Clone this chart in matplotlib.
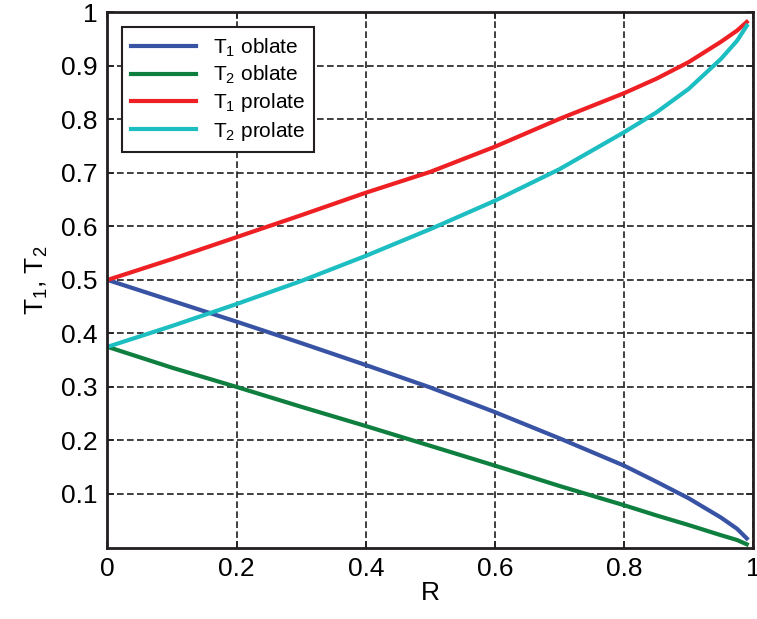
import matplotlib
matplotlib.use('Agg')
import matplotlib.pyplot as plt

# values
R = [0.0, 0.1, 0.2, 0.3, 0.4, 0.5, 0.6, 0.7, 0.8, 0.85, 0.9, 0.95, 0.975, 0.99]
t1_oblate = [0.5, 0.461, 0.422, 0.382, 0.341, 0.299, 0.253, 0.204, 0.153, 0.123, 0.092, 0.056, 0.035, 0.017]
t2_oblate = [0.375, 0.336, 0.300, 0.263, 0.227, 0.190, 0.153, 0.115, 0.079, 0.060, 0.042, 0.023, 0.014, 0.006]
t1_prolate = [0.5, 0.539, 0.580, 0.621, 0.663, 0.702, 0.749, 0.801, 0.849, 0.876, 0.907, 0.945, 0.966, 0.982]
t2_prolate = [0.375, 0.414, 0.455, 0.498, 0.545, 0.595, 0.648, 0.707, 0.776, 0.813, 0.857, 0.913, 0.947, 0.975]

xticks = [0, 0.2, 0.4, 0.6, 0.8, 1]
xticklabels = ['0', '0.2', '0.4', '0.6', '0.8', '1']
yticks = [0.1, 0.2, 0.3, 0.4, 0.5, 0.6, 0.7, 0.8, 0.9, 1]
yticklabels = ['0.1', '0.2', '0.3', '0.4', '0.5', '0.6', '0.7', '0.8', '0.9', '1']

plt.rcParams['font.family'] = ['Liberation Sans', 'DejaVu Sans']
plt.rcParams['mathtext.default'] = 'regular'

fig = plt.figure(figsize=(7.57, 6.19), dpi=100)
ax = fig.add_axes([0.142, 0.1155, 0.853, 0.8645])

lw = 3.0
ax.plot(R, t1_oblate, color='#3953a4', lw=lw, label='T$_1$ oblate')
ax.plot(R, t2_oblate, color='#0e7f3f', lw=lw, label='T$_2$ oblate')
ax.plot(R, t1_prolate, color='#ee2024', lw=lw, label='T$_1$ prolate')
ax.plot(R, t2_prolate, color='#1cbec1', lw=lw, label='T$_2$ prolate')

ax.set_xlim(0, 1)
ax.set_ylim(0, 1)
ax.set_xticks(xticks)
ax.set_xticklabels(xticklabels)
ax.set_yticks(yticks)
ax.set_yticklabels(yticklabels)
ax.tick_params(direction='in', length=5, width=1.2, labelsize=19, color='#231f20',
               top=True, right=True, pad=7)
ax.grid(True, color='#231f20', linestyle=(0, (4, 2)), linewidth=1.2)
for s in ax.spines.values():
    s.set_linewidth(2)
    s.set_color('#231f20')

ax.set_xlabel('R', fontsize=19, labelpad=0)
ax.set_ylabel('T$_1$, T$_2$', fontsize=19, labelpad=8)

leg = ax.legend(loc='upper left', fontsize=15, handlelength=3.1, fancybox=False,
                framealpha=1, edgecolor='#231f20', borderaxespad=0.7,
                labelspacing=0.25, borderpad=0.45)
leg.get_frame().set_linewidth(1.5)

fig.savefig('out.png', dpi=100)
